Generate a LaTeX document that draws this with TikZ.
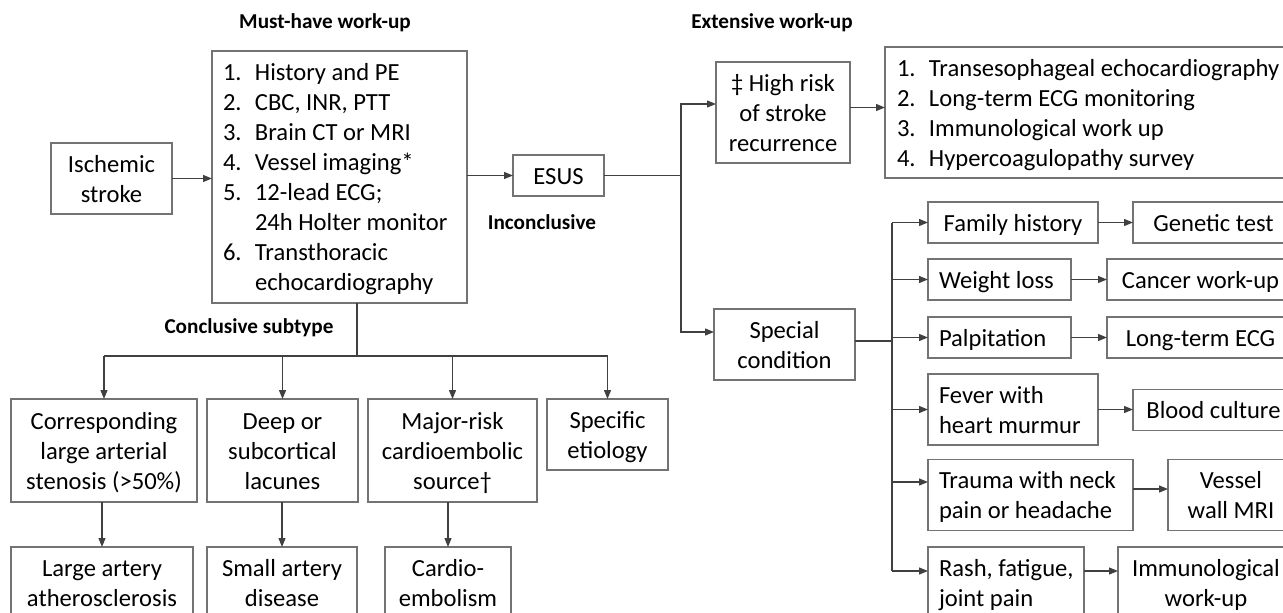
\documentclass[tikz,border=0pt]{standalone}
\usepackage{fontspec}
\setmainfont{Carlito}
\usetikzlibrary{arrows.meta}
% struts for first and last text line
\newcommand{\topstr}{\rule{0pt}{24pt}}
\newcommand{\botstr}{\rule[-7pt]{0pt}{7pt}}
\newcommand{\lnum}[1]{\makebox[32pt][l]{#1}}
\tikzset{
  box/.style={draw=black!55, line width=1.2pt, inner sep=0pt, outer sep=0pt,
    align=center, font=\fontsize{24.6}{30}\selectfont},
  lbox/.style={box, align=flush left, inner xsep=11pt},
  title/.style={font=\fontsize{21.2}{25}\selectfont\bfseries},
  link/.style={draw=black!75, line width=1.2pt},
  arr/.style={link, -{Triangle[length=9pt,width=7pt]}}
}
\begin{document}
\begin{tikzpicture}[x=1pt,y=-1pt]
\useasboundingbox (0,0) rectangle (1283,613);
\clip (0,0) rectangle (1283,613);
% headings
\node[title] (musthd) at (325,23) {Must-have work-up};
\node[title] (exthd) at (772,23) {Extensive work-up};
\node[title] (inconc) at (542,222) {Inconclusive};
\node[title] (concl) at (249,328) {Conclusive subtype};
% first work-up
\node[box, minimum width=121, minimum height=71] (isch) at (111.5,178.5) {\topstr Ischemic\\stroke\botstr};
\node[lbox, text width=233, minimum height=252] (must) at (339.5,177)
  {\topstr\lnum{1.}History and PE\\
   \lnum{2.}CBC, INR, PTT\\
   \lnum{3.}Brain CT or MRI\\
   \lnum{4.}Vessel imaging*\\
   \lnum{5.}12-lead ECG;\\
   \hspace*{32pt}24h Holter monitor\\
   \lnum{6.}Transthoracic\\
   \hspace*{32pt}echocardiography\botstr};
\node[box, minimum width=91, minimum height=41] (esus) at (558.5,175.5) {\topstr ESUS\botstr};
% extensive work-up
\node[box, minimum width=134, minimum height=101] (high) at (783,112.5) {\topstr\ddag{} High risk\\of stroke\\recurrence\botstr};
\node[lbox, inner xsep=12pt, text width=385, minimum height=131] (ext) at (1089.5,112.5)
  {\topstr\lnum{1.}Transesophageal echocardiography\\
   \lnum{2.}Long-term ECG monitoring\\
   \lnum{3.}Immunological work up\\
   \lnum{4.}Hypercoagulopathy survey\botstr};
\node[box, minimum width=141, minimum height=71] (spec) at (784.5,344.5) {\topstr Special\\condition\botstr};
% special conditions
\node[box, minimum width=170, minimum height=41] (fam) at (1013,222.5) {\topstr Family history\botstr};
\node[lbox, text width=121, minimum height=41] (wt) at (999.5,279.5) {\topstr Weight loss\botstr};
\node[lbox, text width=121, minimum height=41] (palp) at (999.5,337.5) {\topstr Palpitation\botstr};
\node[lbox, text width=148, minimum height=71] (fev) at (1013,409.5) {\topstr Fever with\\heart murmur\botstr};
\node[lbox, text width=183, minimum height=71] (trau) at (1030.5,495) {\topstr\mbox{Trauma with neck}\\\mbox{pain or headache}\botstr};
\node[lbox, text width=134, minimum height=71] (rash) at (1006,582.5) {\topstr\mbox{Rash, fatigue,}\\joint pain\botstr};
% tests
\node[box, minimum width=161, minimum height=41] (gen) at (1213.5,222.5) {\topstr Genetic test\botstr};
\node[box, minimum width=187, minimum height=41] (canc) at (1200.5,279.5) {\topstr Cancer work-up\botstr};
\node[box, minimum width=187, minimum height=41] (lecg) at (1200.5,337.5) {\topstr Long-term ECG\botstr};
\node[box, minimum width=161, minimum height=41] (blood) at (1213.5,410) {\topstr Blood culture\botstr};
\node[box, minimum width=126, minimum height=71] (vess) at (1231,495) {\topstr Vessel\\wall MRI\botstr};
\node[box, minimum width=176, minimum height=71] (immu) at (1206,582.5) {\topstr Immunological\\work-up\botstr};
% conclusive subtypes
\node[box, minimum width=186, minimum height=103] (sub1) at (104,450.5) {\topstr Corresponding\\large arterial\\stenosis (>50\%)\botstr};
\node[box, minimum width=151, minimum height=103] (sub2) at (282.5,450.5) {\topstr Deep or\\subcortical\\lacunes\botstr};
\node[box, minimum width=169, minimum height=103] (sub3) at (452.5,450.5) {\topstr Major-risk\\cardioembolic\\source\dag\botstr};
\node[box, minimum width=121, minimum height=71] (sub4) at (607.5,434.5) {\topstr Specific\\etiology\botstr};
\node[box, minimum width=182, minimum height=71] (res1) at (102,582.5) {\topstr Large artery\\atherosclerosis\botstr};
\node[box, minimum width=150, minimum height=71] (res2) at (282,582.5) {\topstr Small artery\\disease\botstr};
\node[box, minimum width=126, minimum height=71] (res3) at (448,582.5) {\topstr Cardio-\\embolism\botstr};
% main line
\draw[arr] (isch.east) -- (isch.east -| must.west);
\draw[arr] (must.east |- esus.west) -- (esus.west);
\coordinate (split) at (681,175.5);
\draw[link] (esus.east) -- (split);
\draw[arr] (split) |- ([yshift=8.5pt]high.west);
\draw[arr] (split) |- ([yshift=12.5pt]spec.west);
\draw[arr] ([yshift=5pt]high.east) -- ([yshift=5pt]high.east -| ext.west);
% trunk of special conditions
\coordinate (trunk) at (892,0);
\coordinate (trauin) at ([yshift=13pt]trau.west);
\coordinate (rashin) at ([yshift=11.5pt]rash.west);
\draw[link] ([yshift=3.5pt]spec.east) -- ([yshift=3.5pt]spec.east -| trunk);
\draw[link] (trunk |- fam.west) -- (trunk |- rashin);
\foreach \n in {fam,wt,palp,fev}
  \draw[arr] (trunk |- \n.west) -- (\n.west);
\draw[arr] (trunk |- trauin) -- (trauin);
\draw[arr] (trunk |- rashin) -- (rashin);
\foreach \a/\b in {fam/gen,wt/canc,palp/lecg,fev/blood}
  \draw[arr] (\a.east) -- (\a.east -| \b.west);
\draw[arr] ([yshift=6pt]trau.east) -- ([yshift=6pt]trau.east -| vess.west);
\draw[arr] (rashin -| rash.east) -- (rashin -| immu.west);
% subtype branches
\coordinate (bar) at (357,356);
\draw[link] (bar |- must.south) -- (bar);
\draw[link] (bar -| sub1.north) -- (bar -| sub4.north);
\foreach \n in {sub1,sub2,sub3,sub4}
  \draw[arr] (bar -| \n.north) -- (\n.north);
\foreach \a/\b in {sub1/res1,sub2/res2,sub3/res3}
  \draw[arr] (\b.north |- \a.south) -- (\b.north);
\end{tikzpicture}
\end{document}
